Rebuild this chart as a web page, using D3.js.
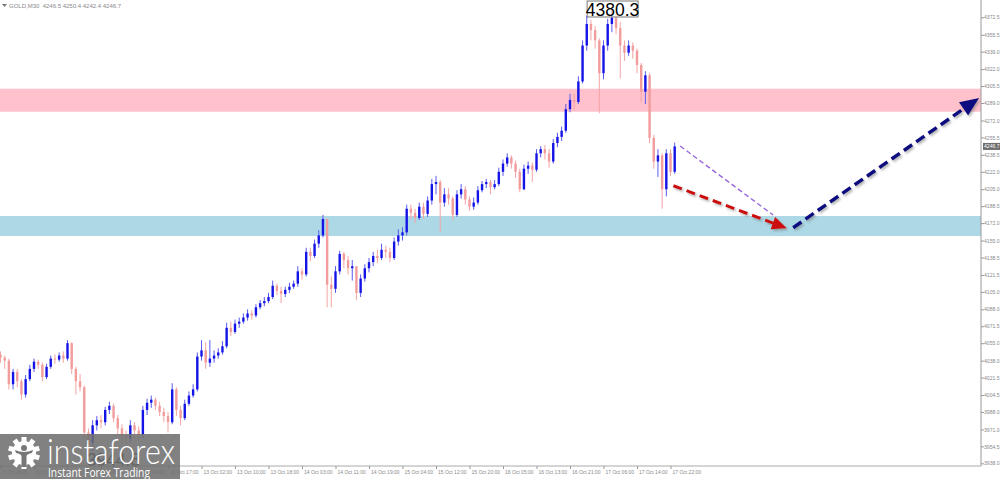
<!DOCTYPE html>
<html><head><meta charset="utf-8">
<script src="https://cdn.jsdelivr.net/npm/d3@7"></script>
<style>html,body{margin:0;padding:0;background:#fff;overflow:hidden}svg{display:block}</style>
</head><body><svg id="c" width="1000" height="479"></svg>
<script>
// ---------- DATA ----------
const titleText = "GOLD,M30  4246.5 4250.4 4242.4 4246.7";
const priceTicks = [4372.5,4355.5,4339.0,4322.0,4305.5,4289.0,4272.0,4255.5,4238.5,4222.0,4205.0,4188.5,4172.0,4155.0,4138.5,4121.5,4105.0,4088.0,4071.5,4055.0,4038.0,4021.5,4004.5,3988.0,3971.0,3954.5,3938.0];
const timeLabels = ["8 Oct 2025","9 Oct 09:00","9 Oct 17:00","10 Oct 01:00","10 Oct 09:00","10 Oct 17:00","13 Oct 02:00","13 Oct 10:00","13 Oct 18:00","14 Oct 03:00","14 Oct 11:00","14 Oct 19:00","15 Oct 04:00","15 Oct 12:00","15 Oct 20:00","16 Oct 05:00","16 Oct 13:00","16 Oct 21:00","17 Oct 06:00","17 Oct 14:00","17 Oct 22:00"];
const barsPerLabel = 8;
const firstOpen = 4044;
const closes = [
4041,4038,4015,4027,4018,4005,4020,4030,4037,4034,
4022,4032,4040,4039,4043,4040,4055,4030,4018,4012,
3968,3958,3975,3980,3978,3990,3994,3982,3972,3965,
3962,3975,3970,3966,3990,3997,4000,3994,3988,3984,
3978,4010,3990,3982,3996,4004,4010,4042,4048,4036,
4040,4043,4046,4052,4070,4066,4074,4076,4080,4084,
4082,4090,4094,4096,4100,4111,4106,4103,4107,4110,
4113,4125,4122,4144,4140,4152,4160,4176,4112,4108,
4125,4142,4136,4128,4130,4104,4118,4128,4134,4140,
4138,4146,4144,4138,4154,4160,4163,4186,4182,4177,
4188,4181,4194,4210,4212,4192,4200,4196,4180,4200,
4205,4195,4188,4192,4204,4210,4212,4207,4210,4222,
4230,4236,4230,4222,4205,4225,4228,4224,4240,4244,
4240,4232,4250,4256,4262,4283,4292,4290,4310,4345,
4366,4360,4350,4318,4345,4366,4372,4362,4345,4338,
4345,4340,4326,4300,4316,4255,4232,4238,4205,4240,
4222,4246.7];
const highs = [
4047,4043,4040,4030,4030,4020,4024,4034,4040,4039,
4036,4035,4043,4044,4046,4047,4058,4056,4032,4025,
4014,3972,3980,3984,3985,3993,3998,3996,3985,3976,
3970,3980,3978,3974,3994,4001,4004,4002,3998,3992,
3988,4016,4012,3994,4000,4008,4015,4046,4058,4056,
4058,4048,4050,4057,4075,4076,4078,4080,4084,4088,
4087,4093,4097,4100,4104,4116,4113,4110,4110,4114,
4116,4130,4128,4148,4148,4156,4165,4180,4176,4120,
4130,4145,4144,4140,4136,4130,4122,4132,4138,4144,
4146,4152,4150,4148,4158,4166,4168,4190,4190,4186,
4192,4192,4198,4215,4218,4214,4206,4206,4198,4204,
4210,4208,4198,4197,4208,4213,4215,4214,4214,4226,
4234,4240,4238,4233,4225,4229,4232,4231,4244,4247,
4248,4244,4254,4260,4266,4288,4298,4298,4315,4350,
4374,4370,4364,4352,4350,4371,4380.3,4376,4368,4350,
4350,4348,4342,4328,4320,4318,4258,4244,4240,4244,
4244,4250.4];
const lows = [
4036,4030,4010,4010,4012,4000,4002,4018,4027,4030,
4018,4020,4030,4035,4037,4036,4038,4025,4005,4008,
3962,3944.8,3950,3970,3972,3975,3986,3978,3966,3958,
3955,3958,3962,3960,3962,3985,3992,3990,3984,3978,
3968,3976,3984,3975,3980,3994,4002,4008,4038,4030,
4032,4036,4040,4044,4050,4062,4064,4070,4074,4077,
4078,4080,4088,4091,4094,4098,4102,4094,4100,4104,
4108,4110,4117,4120,4135,4138,4148,4158,4090,4090,
4104,4122,4128,4122,4116,4097,4100,4115,4124,4130,
4133,4136,4138,4134,4136,4150,4155,4160,4176,4172,
4175,4176,4178,4190,4200,4163,4188,4190,4175,4178,
4196,4190,4184,4185,4190,4202,4206,4200,4205,4208,
4218,4227,4225,4216,4202,4204,4220,4212,4222,4236,
4234,4226,4230,4246,4252,4260,4280,4282,4288,4308,
4340,4350,4342,4279,4312,4340,4358,4356,4313,4330,
4335,4332,4318,4290,4288,4250,4225,4217,4186,4198,
4218,4220];
const resistanceZone = [4302.9, 4280.5];
const supportZone = [4178.9, 4159.4];
const currentPrice = 4246.7;
const highMark = {bar: 140.2, price: 4380.3, text: "4380.3"};
const lowMark = {bar: 21, price: 3944.8, text: "3944.8"};
const purpleLine = [[162.3, 4247.1], [184.5, 4179.9]];
const redArrow = [[160.7, 4208.4], [187.8, 4166.9]];
const navyArrow = [[189.3, 4167.5], [233.7, 4293.9]];

// ---------- CHART ----------
const svg = d3.select("#c");
const plotRight = 981, plotBottom = 466;
const FONT = "Liberation Sans, Arial, sans-serif";
const x = d3.scaleLinear().domain([0, 160]).range([0.5, 670.5]);
const y = d3.scaleLinear().domain([3938.0, 4372.5]).range([463.3, 17.3]);

const defs = svg.append("defs");
const f = defs.append("filter").attr("id","sh").attr("x","-10%").attr("y","-10%").attr("width","130%").attr("height","130%");
f.append("feDropShadow").attr("dx",1.5).attr("dy",1.8).attr("stdDeviation",0.8).attr("flood-color","#777").attr("flood-opacity",0.55);
defs.append("clipPath").attr("id","plot").append("rect").attr("x",0).attr("y",0).attr("width",plotRight).attr("height",plotBottom);

const g = svg.append("g").attr("clip-path","url(#plot)");

// zones
[[resistanceZone,"#ffc1cc"],[supportZone,"#add8e6"]].forEach(([z,c])=>{
  g.append("rect").attr("x",0).attr("width",plotRight)
   .attr("y",y(z[0])).attr("height",y(z[1])-y(z[0])).attr("fill",c);
});

// candles
const candles = closes.map((c,i)=>({i, o: i===0?firstOpen:closes[i-1], c, h: highs[i], l: lows[i]}));
const cg = g.append("g");
cg.selectAll("line.w").data(candles).join("line")
  .attr("x1",d=>x(d.i)).attr("x2",d=>x(d.i))
  .attr("y1",d=>y(d.h)).attr("y2",d=>y(d.l))
  .attr("stroke",d=>d.c>=d.o?"#5a5af0":"#f4a4a4").attr("stroke-width",1);
cg.selectAll("rect.b").data(candles).join("rect")
  .attr("x",d=>x(d.i)-1.2).attr("width",2.4)
  .attr("y",d=>y(Math.max(d.o,d.c)))
  .attr("height",d=>Math.max(1,Math.abs(y(d.o)-y(d.c))))
  .attr("fill",d=>d.c>=d.o?"#1414e6":"#f29c9c");

// forecast lines
function P(p){return [x(p[0]), y(p[1])];}
const pa = P(purpleLine[0]), pb = P(purpleLine[1]);
g.append("line").attr("x1",pa[0]).attr("y1",pa[1]).attr("x2",pb[0]).attr("y2",pb[1])
 .attr("stroke","#9966dd").attr("stroke-width",1.4).attr("stroke-dasharray","5,3");

function arrow(pts, color, w, hl, hw, dash){
  const a=P(pts[0]), b=P(pts[1]);
  const dx=b[0]-a[0], dy=b[1]-a[1], L=Math.hypot(dx,dy), ux=dx/L, uy=dy/L;
  const bx=b[0]-ux*hl, by=b[1]-uy*hl;
  const ag = g.append("g").attr("filter","url(#sh)");
  ag.append("line").attr("x1",a[0]).attr("y1",a[1]).attr("x2",bx+ux*2).attr("y2",by+uy*2)
    .attr("stroke",color).attr("stroke-width",w).attr("stroke-dasharray",dash);
  ag.append("polygon").attr("fill",color)
    .attr("points",[[b[0],b[1]],[bx-uy*hw,by+ux*hw],[bx+uy*hw,by-ux*hw]].map(p=>p.join(",")).join(" "));
}
arrow(redArrow,"#cc1010",3,15,6.5,"9,5");
arrow(navyArrow,"#0a0a80",3.5,19,8,"10,5");

// high label
svg.append("rect").attr("x",x(highMark.bar)-0.5).attr("y",1).attr("width",51).attr("height",16)
  .attr("fill","rgba(255,255,255,0.6)").attr("stroke","#555").attr("stroke-width",0.8);
svg.append("text").attr("x",x(highMark.bar)+25).attr("y",15.5).attr("text-anchor","middle")
  .attr("font-family",FONT).attr("font-size",17.5).attr("fill","#000").text(highMark.text);
// low label (under logo)
svg.append("text").attr("x",x(lowMark.bar)+25).attr("y",466).attr("text-anchor","middle")
  .attr("font-family",FONT).attr("font-size",17.5).attr("fill","#000").text(lowMark.text);

// axes
const yAxis = d3.axisRight(y).tickValues(priceTicks).tickSize(3).tickFormat(d3.format(".1f"));
const ya = svg.append("g").attr("transform",`translate(${plotRight},0)`).call(yAxis);
ya.select(".domain").attr("d",`M0,0V${plotBottom}`).attr("stroke","#999");
ya.selectAll(".tick line").attr("stroke","#999");
ya.selectAll(".tick text").attr("x",3).attr("font-size",5.1).attr("fill","#8a8a8a")
  .attr("font-family",FONT);

const xAxis = d3.axisBottom(x).tickValues(timeLabels.map((_,k)=>k*barsPerLabel)).tickSize(3)
  .tickFormat((d,k)=>timeLabels[k]);
const xa = svg.append("g").attr("transform",`translate(0,${plotBottom})`).call(xAxis);
xa.select(".domain").attr("d",`M0,0H${plotRight}`).attr("stroke","#aaa");
xa.selectAll(".tick line").attr("stroke","#999");
xa.selectAll(".tick text").attr("text-anchor","start").attr("x",1.5).attr("y",4).attr("dy","0.71em")
  .attr("font-size",5).attr("fill","#8a8a8a").attr("font-family",FONT);

// current price tag
svg.append("rect").attr("x",plotRight+2).attr("y",y(currentPrice)-3.5).attr("width",18).attr("height",7).attr("fill","#6e6e6e");
svg.append("text").attr("x",plotRight+3).attr("y",y(currentPrice)+1.9).attr("font-size",5.1).attr("fill","#fff")
  .attr("font-family",FONT).text(currentPrice.toFixed(1));

// title
svg.append("path").attr("d","M2,4 L7,4 L4.5,7 Z").attr("fill","#777");
svg.append("text").attr("x",9).attr("y",8).attr("font-size",6).attr("fill","#888")
  .attr("font-family",FONT).attr("xml:space","preserve").text(titleText);

// logo
const lg = svg.append("g");
lg.append("rect").attr("x",0).attr("y",434).attr("width",180).attr("height",45).attr("fill","#6f6f6f").attr("opacity",0.88);
const gx=24, gy=453;
lg.selectAll("rect.t").data(d3.range(10)).join("rect")
  .attr("x",gx-2.5).attr("y",gy-16).attr("width",5).attr("height",6).attr("fill","#fff")
  .attr("transform",d=>`rotate(${d*36},${gx},${gy})`);
lg.append("circle").attr("cx",gx).attr("cy",gy).attr("r",12).attr("fill","#fff");
lg.append("circle").attr("cx",gx).attr("cy",gy-5).attr("r",3).attr("fill","#777");
lg.append("path").attr("d",`M${gx-9},${gy-3} Q${gx},${gy+1} ${gx+9},${gy-3} L${gx+8},${gy} Q${gx+3},${gy+1} ${gx+2.5},${gy+3} L${gx+2.5},${gy+14} L${gx-2.5},${gy+14} L${gx-2.5},${gy+3} Q${gx-3},${gy+1} ${gx-8},${gy} Z`).attr("fill","#777");
lg.append("text").attr("x",47).attr("y",464).attr("font-family","Lato, 'Open Sans', sans-serif").attr("font-weight",300)
  .attr("font-size",36).attr("fill","#fff").attr("textLength",128).attr("lengthAdjust","spacingAndGlyphs").text("instaforex");
lg.append("text").attr("x",48).attr("y",476.5).attr("font-family","'Open Sans', Lato, sans-serif")
  .attr("font-size",13).attr("fill","#fff").attr("textLength",102).attr("lengthAdjust","spacingAndGlyphs").text("Instant Forex Trading");
</script></body></html>
